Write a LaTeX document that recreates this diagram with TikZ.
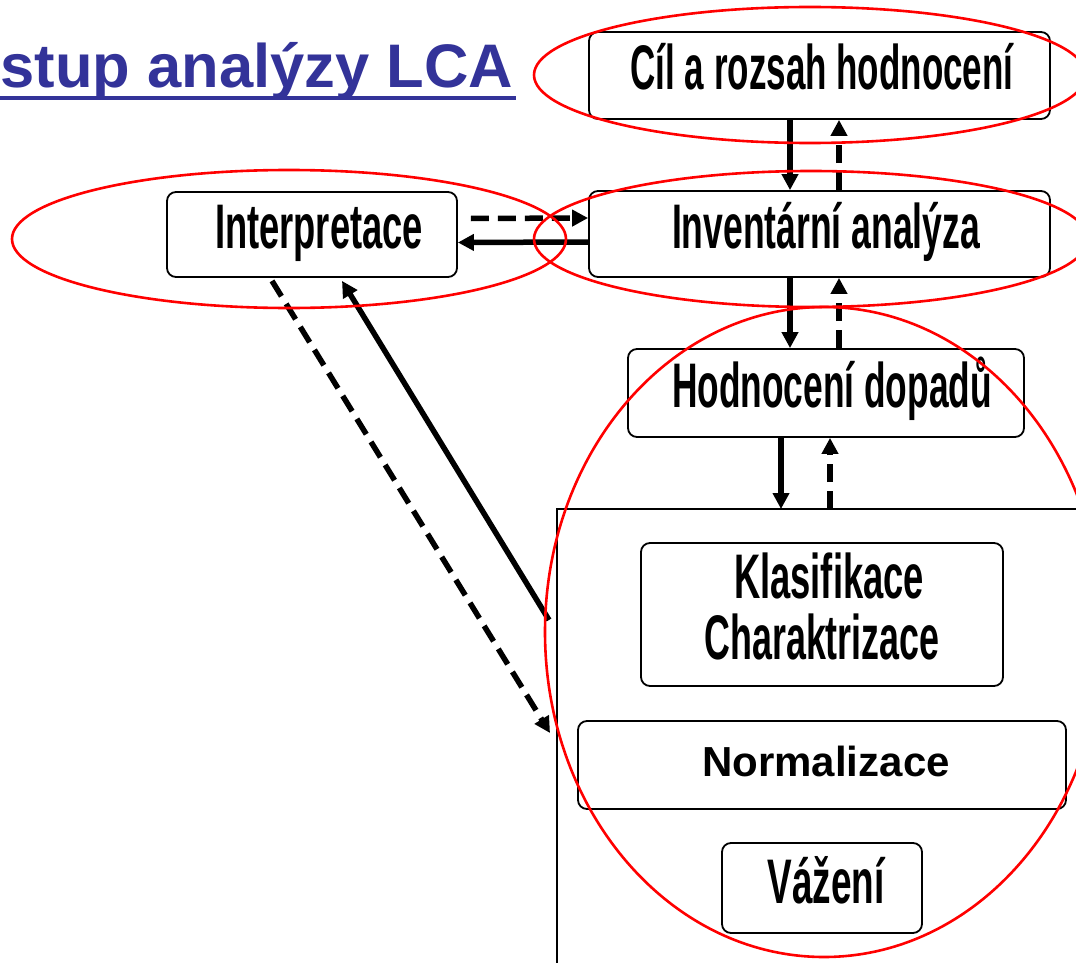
\documentclass[tikz,border=0pt]{standalone}
\usepackage{fontspec}
\setmainfont{Liberation Sans}
\usetikzlibrary{arrows.meta}
\definecolor{titleblue}{HTML}{333399}
\newcommand\cmpr[2]{\resizebox{#1}{\height}{#2}}
\begin{document}
\begin{tikzpicture}[x=1pt,y=-1pt,
  box/.style={draw=black, line width=1.8pt, rounded corners=9pt, inner sep=0pt, fill=white},
  txt/.style={anchor=base, inner sep=0pt, font=\fontsize{63}{63}\selectfont\bfseries},
  sarr/.style={line width=5.5pt, -{Triangle[length=16pt,width=16pt]}},
  darr/.style={sarr, dash pattern=on 18pt off 9pt},
  hoop/.style={draw=red, line width=2.6pt},
]
\clip (0,0) rectangle (1076,963);
\fill[white] (0,0) rectangle (1076,963);

% title
\node[anchor=base west, inner sep=0pt, text=titleblue,
      font=\fontsize{61.5}{61.5}\selectfont\bfseries] (title) at (0.5,88) {stup analýzy LCA};
\draw[titleblue, line width=4.5pt] ([yshift=-10pt,xshift=-2pt]title.base west) -- ([yshift=-10pt,xshift=2pt]title.base east);

% big open frame
\draw[line width=1.8pt] (1100,509) -- (557,509) -- (557,1000);

% boxes
\node[box, minimum width=461pt, minimum height=87pt] (cil) at (819.5,75.5) {};
\node[box, minimum width=461pt, minimum height=86pt] (inv) at (819.5,234) {};
\node[box, minimum width=290pt, minimum height=85pt] (interp) at (312,234.5) {};
\node[box, minimum width=396pt, minimum height=88pt] (hod) at (826,393) {};
\node[box, minimum width=362pt, minimum height=143pt] (kla) at (822,614.5) {};
\node[box, minimum width=488pt, minimum height=88pt] (norm) at (822,765) {};
\node[box, minimum width=200pt, minimum height=90pt] (vaz) at (822,888) {};

% texts
\node[txt] (cilt) at (822,90) {\cmpr{383pt}{Cíl a rozsah hodnocení}};
\node[txt] (invt) at (826,248) {\cmpr{308pt}{Inventární analýza}};
\node[txt] (intt) at (319,248) {\cmpr{208pt}{Interpretace}};
\node[txt] (hodt) at (832,407) {\cmpr{320pt}{Hodnocení dopadů}};
\node[txt] (klat) at (829,598) {\cmpr{190pt}{Klasifikace}};
\node[txt] (chat) at (822,659) {\cmpr{235pt}{Charaktrizace}};
\node[txt] (vazt) at (826,903) {\cmpr{117pt}{Vážení}};
\node[anchor=base, inner sep=0pt, font=\fontsize{42}{42}\selectfont\bfseries] (normt) at (826,776) {Normalizace};

% vertical connectors
\coordinate (ax) at (790,0);
\coordinate (bx) at (839,0);
\coordinate (rs) at (781,509);
\coordinate (rd) at (830,509);
\draw[sarr] (cil.south -| ax) -- (inv.north -| ax);
\draw[darr] (inv.north -| bx) -- (cil.south -| bx);
\draw[sarr] (inv.south -| ax) -- (hod.north -| ax);
\draw[darr] (hod.north -| bx) -- (inv.south -| bx);
\draw[sarr] (hod.south -| rs) -- (rs);
\draw[darr] (rd) -- (hod.south -| rd);

% horizontal connectors
\draw[darr] ([xshift=13pt,yshift=16pt]interp.east) -- ([yshift=16pt]inv.west);
\draw[sarr] ([yshift=-8pt]inv.west) -- ([yshift=-8pt]interp.east);

% diagonal connectors
\coordinate (stail) at (549,620);
\coordinate (dtip) at (550,733);
\draw[sarr] (stail) -- ([xshift=30pt,yshift=-3pt]interp.south);
\draw[darr] ([xshift=-40pt,yshift=-3pt]interp.south) -- (dtip);

% red ellipses
\draw[hoop] (810,75) ellipse [x radius=276pt, y radius=68pt];
\draw[hoop] (811,239) ellipse [x radius=277pt, y radius=68pt];
\draw[hoop] (289,239) ellipse [x radius=277pt, y radius=69pt];
\draw[hoop] (824,632) ellipse [x radius=279pt, y radius=325pt];
\end{tikzpicture}
\end{document}
